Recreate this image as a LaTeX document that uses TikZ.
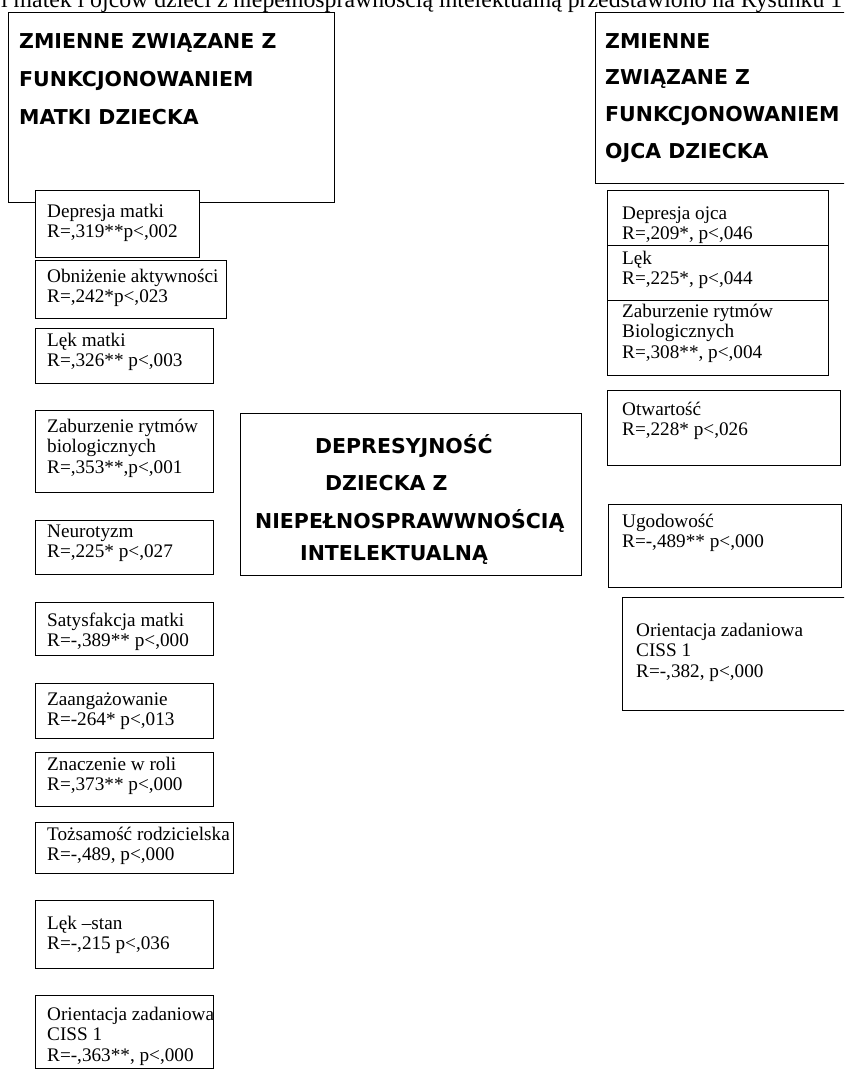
\documentclass[tikz,border=0pt]{standalone}
\usepackage{fontspec}
\setmainfont{Liberation Serif}
\newfontfamily\hdrfont{DejaVu Sans}
\newcommand\rows[1]{\begin{tabular}[t]{@{}l@{}}#1\end{tabular}}
\begin{document}
\begin{tikzpicture}[x=1pt,y=-1pt,
  bx/.style={draw=black, line width=0.8pt, fill=white, anchor=north west, inner sep=0pt, outer sep=0pt},
  tx/.style={anchor=base west, inner sep=0pt, font=\fontsize{19.2}{20.6}\selectfont},
  hd/.style={anchor=base west, inner sep=0pt, font=\hdrfont\bfseries\fontsize{20.5}{38}\selectfont},
  hdr/.style={hd, font=\hdrfont\bfseries\fontsize{20.5}{36.7}\selectfont}]
\useasboundingbox (0,0) rectangle (844,1071);
\clip (0,0) rectangle (844,1071);
\fill[white] (0,0) rectangle (844,1071);

% running text of the page
\node[anchor=base west, inner sep=0pt, font=\fontsize{23.8}{26}\selectfont] (toptext) at (1,7.5)
  {\makebox[841pt][s]{i matek i ojców dzieci z niepełnosprawnością intelektualną przedstawiono na Rysunku 1}};

% headers
\node[bx, minimum width=326, minimum height=190] (lh) at (8,12) {};
\node[hd] (lht) at (19,48) {\rows{ZMIENNE ZWIĄZANE Z\\FUNKCJONOWANIEM\\MATKI DZIECKA}};
\node[bx, minimum width=265, minimum height=171] (rh) at (595,12) {};
\node[hdr] (rht) at (605,48) {\rows{ZMIENNE\\ZWIĄZANE Z\\FUNKCJONOWANIEM\\OJCA DZIECKA}};

% mother boxes
\node[bx, minimum width=164, minimum height=67] (m1) at (35,190) {};
\node[tx] (m1t) at (47,217) {\rows{Depresja matki\\R=,319**p<,002}};
\node[bx, minimum width=191, minimum height=58] (m2) at (35,260) {};
\node[tx] (m2t) at (47,282) {\rows{Obniżenie aktywności\\R=,242*p<,023}};
\node[bx, minimum width=178, minimum height=55] (m3) at (35,328) {};
\node[tx] (m3t) at (47,346) {\rows{Lęk matki\\R=,326** p<,003}};
\node[bx, minimum width=178, minimum height=82] (m4) at (35,410) {};
\node[tx] (m4t) at (47,432) {\rows{Zaburzenie rytmów\\biologicznych\\R=,353**,p<,001}};
\node[bx, minimum width=178, minimum height=54] (m5) at (35,520) {};
\node[tx] (m5t) at (47,537) {\rows{Neurotyzm\\R=,225* p<,027}};
\node[bx, minimum width=178, minimum height=53] (m6) at (35,602) {};
\node[tx] (m6t) at (47,626) {\rows{Satysfakcja matki\\R=-,389** p<,000}};
\node[bx, minimum width=178, minimum height=55] (m7) at (35,683) {};
\node[tx] (m7t) at (47,705) {\rows{Zaangażowanie\\R=-264* p<,013}};
\node[bx, minimum width=178, minimum height=54] (m8) at (35,752) {};
\node[tx] (m8t) at (47,770) {\rows{Znaczenie w roli\\R=,373** p<,000}};
\node[bx, minimum width=198, minimum height=51] (m9) at (35,822) {};
\node[tx] (m9t) at (47,840) {\rows{Tożsamość rodzicielska\\R=-,489, p<,000}};
\node[bx, minimum width=178, minimum height=68] (m10) at (35,900) {};
\node[tx] (m10t) at (47,929) {\rows{Lęk –stan\\R=-,215 p<,036}};
\node[bx, minimum width=178, minimum height=73] (m11) at (35,995) {};
\node[tx] (m11t) at (47,1020) {\rows{Orientacja zadaniowa\\CISS 1\\R=-,363**, p<,000}};

% central box
\node[bx, minimum width=341, minimum height=162] (c) at (240,413) {};
\node[hd] (c1) at (315,453) {DEPRESYJNOŚĆ};
\node[hd] (c2) at (325,490) {DZIECKA Z};
\node[hd] (c3) at (255,528) {NIEPEŁNOSPRAWWNOŚCIĄ};
\node[hd] (c4) at (300,560) {INTELEKTUALNĄ};

% father boxes
\node[bx, minimum width=221, minimum height=55] (f1) at (607,190) {};
\node[tx] (f1t) at (622,219) {\rows{Depresja ojca\\R=,209*, p<,046}};
\node[bx, minimum width=221, minimum height=55] (f2) at (607,245) {};
\node[tx] (f2t) at (622,264) {\rows{Lęk\\R=,225*, p<,044}};
\node[bx, minimum width=221, minimum height=75] (f3) at (607,300) {};
\node[tx] (f3t) at (622,317) {\rows{Zaburzenie rytmów\\Biologicznych\\R=,308**, p<,004}};
\node[bx, minimum width=233, minimum height=75] (f4) at (607,390) {};
\node[tx] (f4t) at (622,415) {\rows{Otwartość\\R=,228* p<,026}};
\node[bx, minimum width=233, minimum height=83] (f5) at (608,504) {};
\node[tx] (f5t) at (622,527) {\rows{Ugodowość\\R=-,489** p<,000}};
\node[bx, minimum width=240, minimum height=113] (f6) at (622,597) {};
\node[tx] (f6t) at (636,636) {\rows{Orientacja zadaniowa\\CISS 1\\R=-,382, p<,000}};
\end{tikzpicture}
\end{document}
